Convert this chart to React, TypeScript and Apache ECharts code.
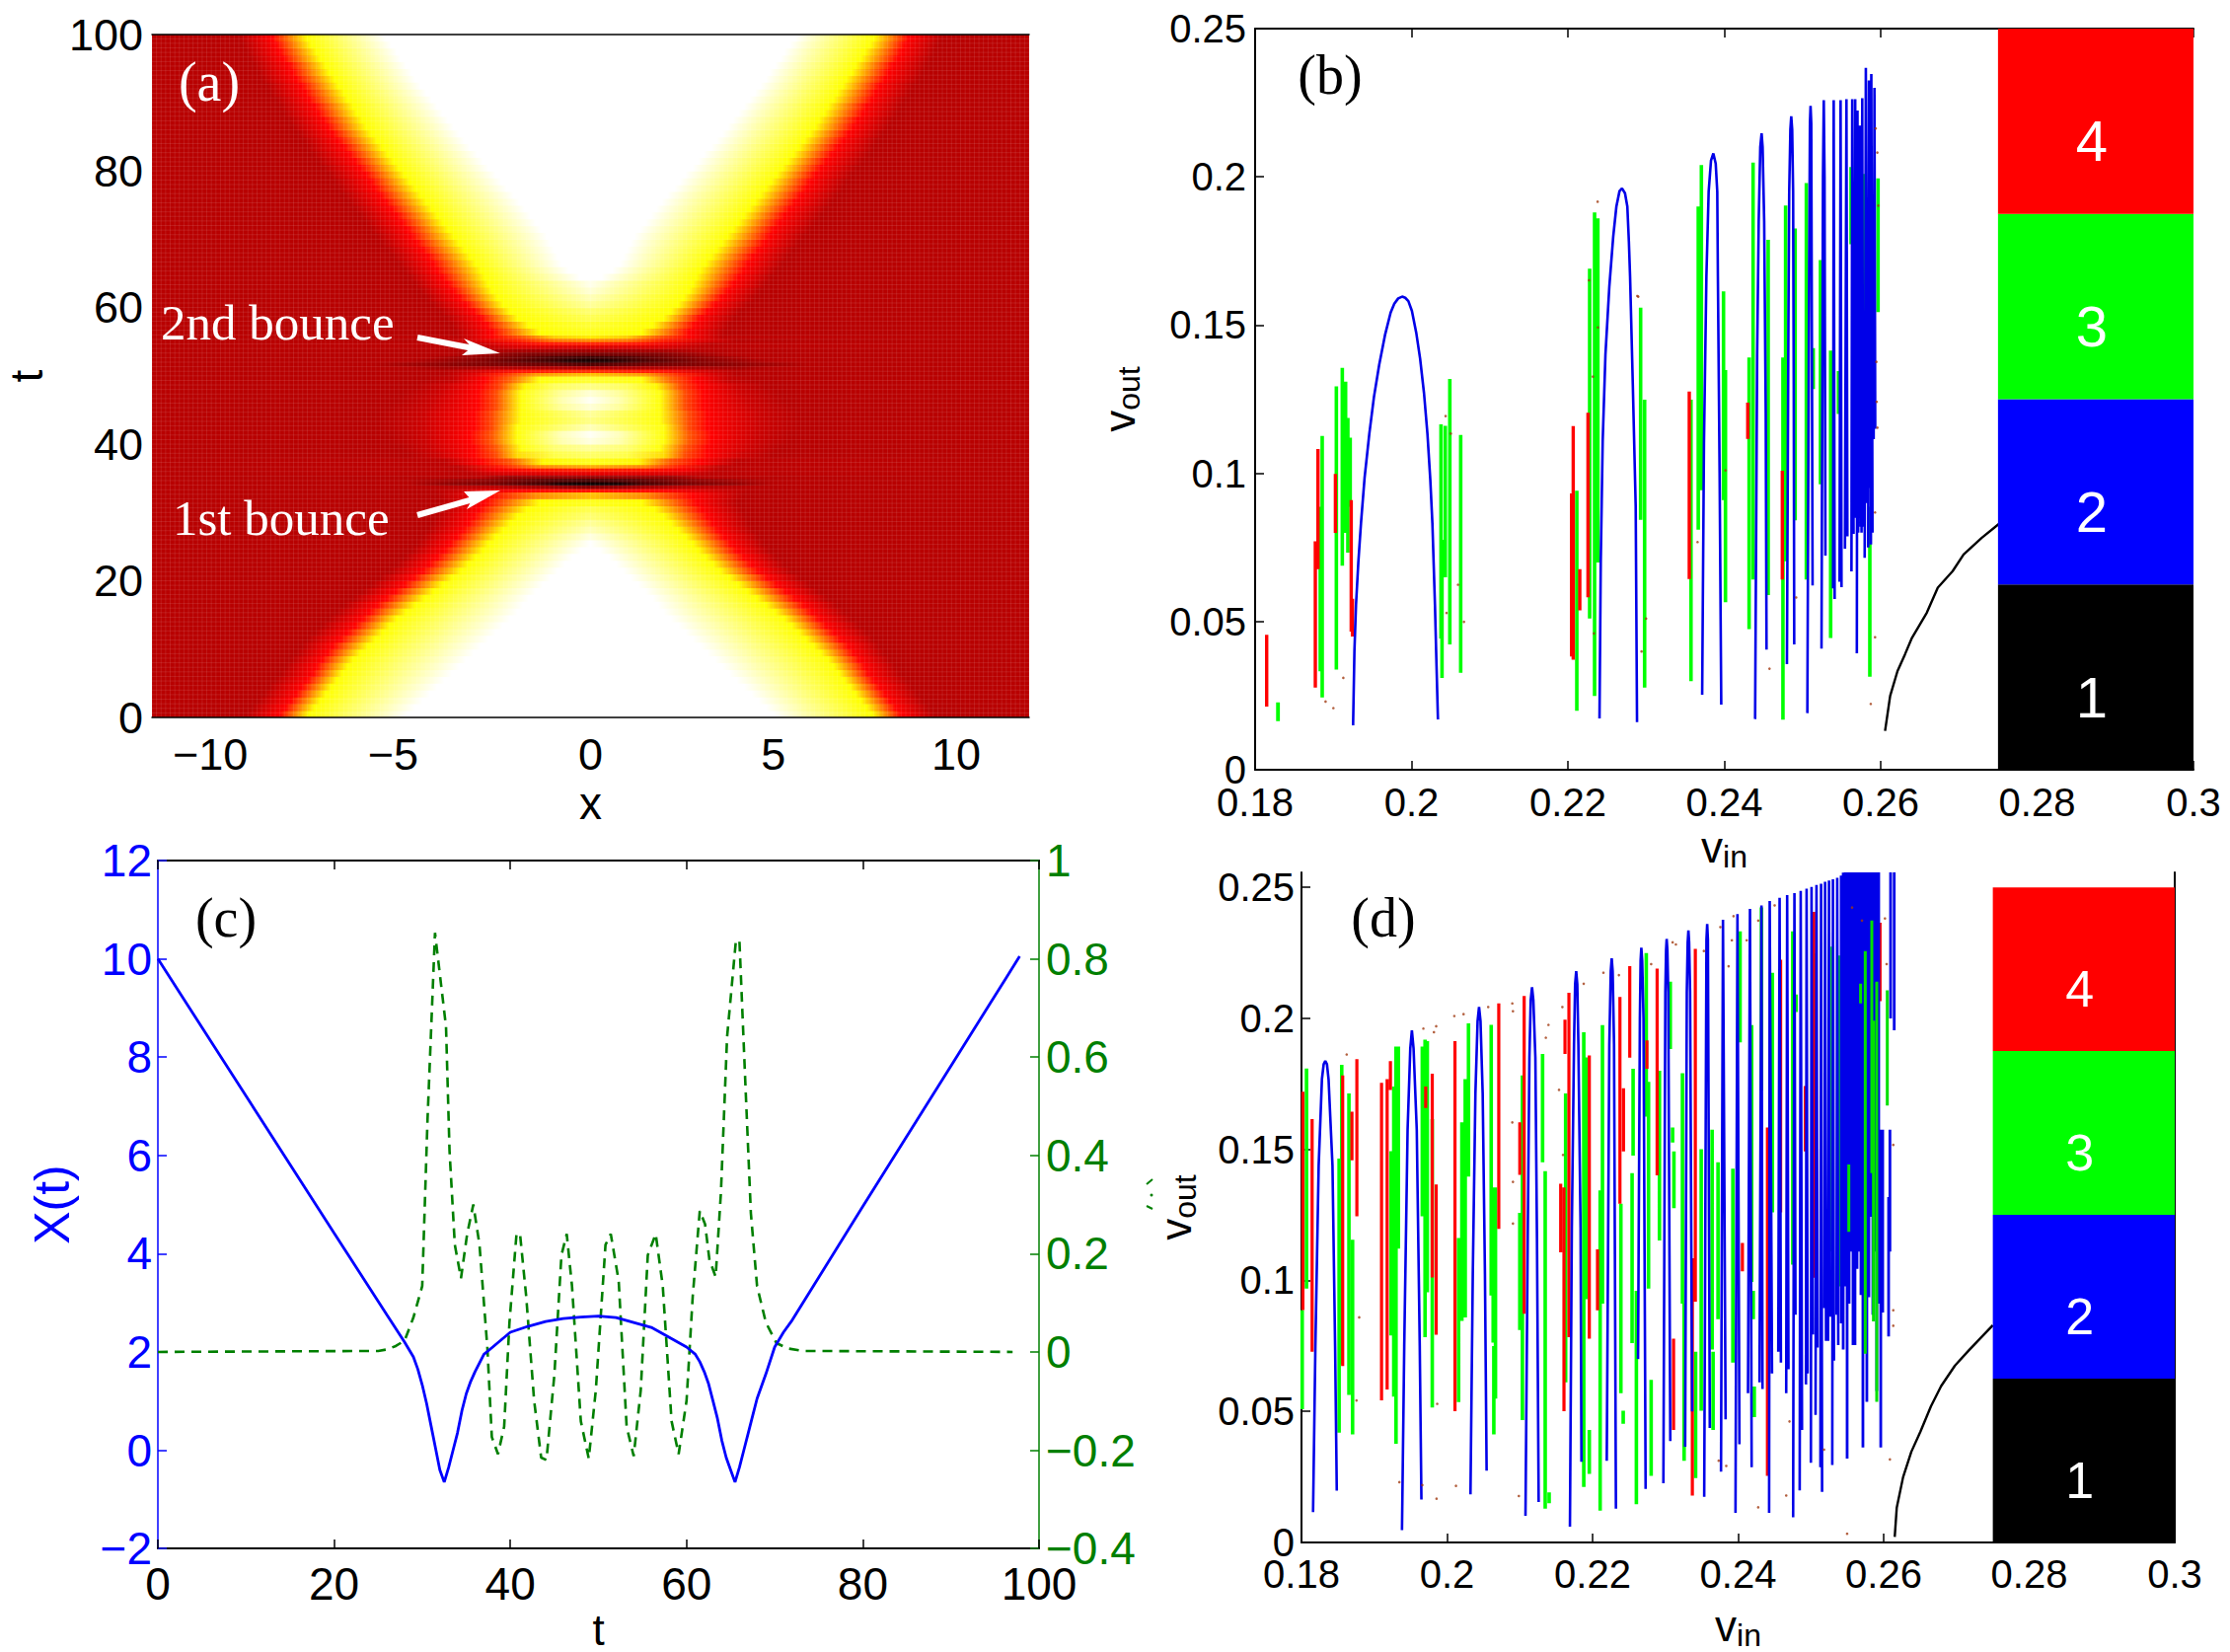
import React, { useEffect, useRef } from "react";
import * as echarts from "echarts";

const SANS = "Liberation Sans";
const SERIF = "Liberation Serif";

// ---------- panel (a): contours read per time row, mirrored in x
const backgroundLevel = 0.27;
const meshStepX = 0.125;
const meshStepT = 0.667;
// [t0, centre level, white edge, yellow edge, red edge, dark edge]
const lowerFlankRows = [
[0,1,5,7.7,8.5,9.4],[1,1,4.8,7.55,8.35,9.25],[2,1,4.6,7.4,8.2,9.1],[3,1,4.4,7.25,8.05,8.95],[4,1,4.2,7.1,7.9,8.8],
[5,1,4,6.95,7.75,8.65],[6,1,3.8,6.8,7.6,8.5],[7,1,3.6,6.65,7.5,8.35],[8,1,3.4,6.5,7.35,8.2],[9,1,3.2,6.3,7.2,8.05],
[10,1,3,6.1,7.05,7.9],[11,1,2.8,5.9,6.85,7.75],[12,1,2.6,5.7,6.65,7.55],[13,1,2.4,5.5,6.45,7.35],[14,1,2.2,5.3,6.25,7.15],
[15,1,2,5.05,6.05,6.95],[16,1,1.85,4.8,5.85,6.75],[17,1,1.7,4.55,5.6,6.5],[18,1,1.5,4.3,5.35,6.25],[19,1,1.3,4.05,5.1,6],
[20,1,1.1,3.8,4.85,5.75],[21,1,0.9,3.55,4.6,5.5],[22,1,0.7,3.35,4.4,5.3],[23,1,0.5,3.15,4.2,5.1],[24,1,0.25,2.95,4,4.9],
[25,1,0,2.8,3.85,4.75],[26,0.97,0,2.6,3.65,4.6],[27,0.93,0,2.4,3.5,4.45],[28,0.9,0,2.2,3.35,4.35],[29,0.86,0,2,3.2,4.25],
[30,0.83,0,1.75,3.05,4.15],[31,0.78,0,1.4,2.9,4.05],
];
const upperFlankRows = [
[56,0.78,0,1.4,2.7,3.7],[57,0.8,0,1.7,2.85,3.8],[58,0.83,0,2,3,3.95],[59,0.86,0,2.2,3.2,4.1],[60,0.9,0,2.4,3.4,4.3],
[61,0.93,0,2.55,3.6,4.5],[62,0.96,0,2.7,3.75,4.65],[63,0.98,0,2.8,3.9,4.8],[64,1,0.3,2.9,4.05,4.95],[65,1,0.6,3,4.2,5.1],
[66,1,0.8,3.15,4.3,5.25],[67,1,0.9,3.3,4.45,5.4],[68,1,1,3.45,4.6,5.55],[69,1,1.1,3.6,4.75,5.7],[70,1,1.2,3.75,4.9,5.85],
[71,1,1.35,3.9,5,6],[72,1,1.5,4.05,5.15,6.15],[73,1,1.65,4.2,5.3,6.3],[74,1,1.8,4.35,5.45,6.45],[75,1,1.95,4.5,5.6,6.6],
[76,1,2.1,4.65,5.75,6.75],[77,1,2.3,4.8,5.9,6.9],[78,1,2.45,4.95,6,7],[79,1,2.6,5.1,6.15,7.15],[80,1,2.8,5.25,6.3,7.3],
[81,1,2.95,5.4,6.45,7.45],[82,1,3.1,5.55,6.6,7.6],[83,1,3.3,5.7,6.75,7.75],[84,1,3.45,5.85,6.9,7.85],[85,1,3.6,6,7.05,8],
[86,1,3.75,6.15,7.2,8.15],[87,1,3.9,6.25,7.3,8.25],[88,1,4.05,6.4,7.45,8.4],[89,1,4.2,6.5,7.55,8.5],[90,1,4.35,6.65,7.7,8.6],
[91,1,4.5,6.75,7.8,8.75],[92,1,4.65,6.9,7.9,8.85],[93,1,4.8,7,8.05,9],[94,1,4.9,7.15,8.15,9.1],[95,1,5.05,7.25,8.25,9.2],
[96,1,5.2,7.4,8.4,9.3],[97,1,5.3,7.5,8.5,9.4],[98,1,5.45,7.65,8.6,9.5],[99,1,5.6,7.75,8.7,9.6],
];
// [t0, t1, x, level, x, level, ...] around the two bounces and the bound state between them
const bounceRows = [
[32,33,0,0.66,1.5,0.58,2.8,0.375,4.2,0.27],
[33,33.5,0,0.4,2,0.38,3,0.33,4.3,0.27],
[33.5,34,0,0.2,1.5,0.25,2.6,0.28,4,0.27],
[34,34.5,0,0.02,0.8,0.04,1.3,0.1,2.6,0.18,4,0.22,5,0.27],
[34.5,35,0,0.1,1.3,0.13,2.6,0.2,4,0.24,5,0.27],
[35,35.5,0,0.22,2.2,0.22,3,0.27],
[35.5,36,0,0.34,2.4,0.32,3.3,0.28],
[36,36.5,0,0.42,1.6,0.4,2.6,0.36,3.5,0.28],
[36.5,37,0,0.62,1.5,0.56,2.5,0.4,3.6,0.28],
[37,38,0,0.78,1.3,0.74,2.2,0.5,3,0.375,4,0.28],
[38,39,0,0.85,1,0.82,2,0.7,2.6,0.48,3.2,0.375,4.2,0.3,5,0.27],
[39,40,0,0.9,1,0.86,1.9,0.76,2.6,0.5,3.2,0.375,4.4,0.3,5.2,0.27],
[40,41,0,0.97,0.8,0.92,2,0.76,2.7,0.5,3.3,0.375,4.5,0.3,5.5,0.27],
[41,42,0,0.99,0.8,0.93,2,0.76,2.7,0.5,3.3,0.375,4.5,0.3,5.5,0.27],
[42,43,0,0.93,2,0.76,2.7,0.48,3.2,0.375,4.6,0.3,5.8,0.27],
[43,44,0,0.88,1.9,0.76,2.7,0.48,3.2,0.375,4.6,0.3,5.8,0.27],
[44,45,0,0.9,1.9,0.76,2.7,0.48,3.2,0.375,4.6,0.3,5.8,0.27],
[45,46,0,0.96,0.8,0.9,1.9,0.76,2.6,0.48,3.1,0.375,4.4,0.3,5.5,0.27],
[46,47,0,0.99,0.8,0.92,1.9,0.76,2.6,0.48,3.1,0.375,4.3,0.3,5.3,0.27],
[47,48,0,0.96,0.8,0.9,1.9,0.76,2.6,0.48,3.1,0.375,4.2,0.3,5.2,0.27],
[48,49,0,0.88,1,0.84,1.8,0.74,2.5,0.47,3,0.375,4,0.3,4.8,0.27],
[49,50,0,0.8,1.4,0.76,2.2,0.52,2.9,0.375,3.8,0.29,4.5,0.27],
[50,50.5,0,0.66,1.5,0.6,2.5,0.42,3.2,0.33,4,0.27],
[50.5,51,0,0.44,2,0.4,3,0.32,4,0.27],
[51,51.5,0,0.26,2.5,0.26,4,0.24,5,0.27],
[51.5,52,0,0.12,0.8,0.15,2,0.18,3.5,0.2,5,0.24,6,0.27],
[52,52.5,0,0.04,0.5,0.05,1,0.09,1.9,0.14,3,0.2,4.2,0.24,5,0.27],
[52.5,53,0,0.08,1,0.11,2,0.17,3.2,0.22,4.5,0.27],
[53,53.5,0,0.17,1.8,0.19,3,0.24,3.8,0.27],
[53.5,54,0,0.24,2,0.25,3,0.27],
[54,54.5,0,0.32,2,0.32,3,0.28],
[54.5,55,0,0.42,1.3,0.4,2.3,0.34,3.3,0.28],
[55,55.5,0,0.58,1,0.55,2,0.42,3,0.33,4,0.27],
[55.5,56,0,0.72,1,0.68,1.9,0.5,2.7,0.375,3.6,0.28],
];

// ---------- panel (b)
const barBlocks = [
  { label: "1", color: "#000000", lo: 0, hi: 0.0625 },
  { label: "2", color: "#0000ff", lo: 0.0625, hi: 0.125 },
  { label: "3", color: "#00ff00", lo: 0.125, hi: 0.1875 },
  { label: "4", color: "#ff0000", lo: 0.1875, hi: 0.25 },
];
const barRange = [0.275, 0.3];
const bBlack = [[0.26056,0.0131],[0.26121,0.0249],[0.26215,0.0333],[0.2631,0.0389],[0.264,0.0445],[0.2659,0.053],[0.2673,0.0614],[0.2692,0.067],[0.2706,0.0726],[0.2729,0.0782],[0.2751,0.0829]];
const bBlueArcs = [
  [0.19253,0.015,0.1927,0.04,0.1929,0.0555,0.1932,0.07,0.19354,0.0832,0.194,0.0985,0.1946,0.1132,0.1952,0.1258,0.19586,0.1365,0.1966,0.1465,0.19733,0.1542,0.1978,0.1572,0.1983,0.159,0.1988,0.1596,0.1992,0.1592,0.1996,0.1581,0.20005,0.1548,0.2006,0.1475,0.2011,0.1387,0.2016,0.127,0.20204,0.1132,0.2024,0.098,0.20267,0.0832,0.203,0.0555,0.2032,0.035,0.20338,0.017],
  [0.22404,0.0173,0.2242,0.07,0.22445,0.111,0.2248,0.14,0.2253,0.1631,0.2258,0.18,0.2262,0.19,0.2266,0.1952,0.22692,0.1961,0.2273,0.1945,0.2276,0.19,0.2278,0.178,0.22795,0.1664,0.2283,0.13,0.22867,0.0888,0.22884,0.0161],
  [0.23717,0.0253,0.2374,0.11,0.23771,0.1664,0.238,0.195,0.2383,0.2055,0.2386,0.2079,0.2389,0.2045,0.2391,0.195,0.23918,0.1664,0.2394,0.1,0.23961,0.022],
  [0.24394,0.0171,0.2442,0.14,0.2444,0.185,0.2446,0.21,0.24477,0.2147,0.2449,0.21,0.2451,0.185,0.2453,0.12,0.2454,0.0405],
  [0.24801,0.0356,0.2482,0.15,0.2483,0.195,0.24845,0.216,0.24856,0.2204,0.24868,0.216,0.2488,0.195,0.24888,0.13,0.24894,0.0423],
  [0.25062,0.0191,0.25085,0.17,0.25095,0.218,0.25103,0.2239,0.25112,0.218,0.25129,0.0622],
  [0.25243,0.0409,0.25262,0.2,0.25272,0.2259,0.25282,0.2,0.25293,0.0722],
  [0.25391,0.0612,0.25399,0.2259,0.25411,0.0576],
  [0.25474,0.0634,0.25487,0.2259,0.25499,0.0616],
  [0.25543,0.0746,0.25562,0.2262,0.25574,0.0787],
  [0.25626,0.0669,0.25636,0.2262,0.25653,0.0796],
  [0.25665,0.085,0.25674,0.2262,0.25685,0.09],
  [0.25695,0.0393,0.25703,0.2224,0.25712,0.08],
  [0.25725,0.085,0.25735,0.2173,0.25745,0.082],
  [0.25755,0.08,0.25764,0.2265,0.25775,0.082],
  [0.25795,0.0715,0.2581,0.2368,0.25825,0.09],
  [0.2584,0.075,0.2585,0.2325,0.2586,0.095],
  [0.25875,0.076,0.2588,0.2347,0.25895,0.08],
  [0.2591,0.1115,0.2592,0.23,0.2593,0.115],
];
const bGreen = [
  [0.18291,0.0227,0.0164],[0.18294,0.0227,0.0164],[0.18833,0.0887,0.0332],[0.18858,0.1126,0.0244],[0.19039,0.1293,0.0338],[0.19115,0.1356,0.0688],[0.19157,0.1309,0.0799],[0.19186,0.1187,0.0732],[0.19216,0.112,0.0887],
  [0.20377,0.1165,0.0443],[0.2039,0.0776,0.031],[0.20432,0.116,0.0649],[0.2049,0.1318,0.0423],[0.20629,0.1129,0.0327],
  [0.22114,0.0941,0.0199],[0.22278,0.169,0.051],[0.22341,0.188,0.0249],[0.22383,0.186,0.0699],[0.2293,0.1559,0.0843],[0.22981,0.1248,0.0277],
  [0.23574,0.1248,0.0299],[0.23667,0.19,0.081],[0.23707,0.204,0.0943],[0.2399,0.1614,0.091],[0.24015,0.1348,0.0565],
  [0.24317,0.1391,0.0474],[0.24368,0.2048,0.0642],[0.24561,0.1788,0.0589],[0.2475,0.1391,0.0169],[0.24784,0.1903,0.0703],[0.24906,0.1826,0.0841],[0.25049,0.1979,0.0642],[0.25137,0.1422,0.1284],[0.2523,0.1719,0.0963],[0.2536,0.1414,0.0444],[0.25461,0.1345,0.12],[0.25621,0.2033,0.1773],[0.2565,0.1819,0.1452],[0.25777,0.201,0.1253],[0.25861,0.0887,0.0314],[0.25966,0.1995,0.1544],
];
const bRed = [
  [0.18148,0.0455,0.0213],[0.1877,0.0771,0.0277],[0.18804,0.1082,0.0677],[0.19027,0.0998,0.0799],[0.19229,0.091,0.0466],[0.19245,0.0577,0.0449],
  [0.22068,0.1159,0.0371],[0.22047,0.0932,0.0382],[0.22152,0.0677,0.0538],[0.22257,0.1204,0.0582],[0.23552,0.1276,0.0643],[0.243,0.1238,0.1116],[0.24742,0.1009,0.0642],
];
const bDots = [[0.18901,0.023],[0.19001,0.0208],[0.19128,0.031],[0.20436,0.1193],[0.20503,0.1134],[0.20448,0.0529],[0.20671,0.0499],[0.20595,0.0624],[0.23,0.051],[0.22942,0.0399],[0.22333,0.046],[0.2232,0.1326],[0.22383,0.1492],[0.2227,0.1651],[0.23658,0.0768],[0.24015,0.101],[0.22888,0.1598],[0.2238,0.1916],[0.229,0.1596],[0.25936,0.2163],[0.25957,0.2082],[0.2597,0.1903],[0.25945,0.1376],[0.25949,0.1241],[0.25958,0.1154],[0.25928,0.0868],[0.25928,0.0447],[0.25873,0.0222],[0.24578,0.0341],[0.24919,0.0581]];

// ---------- panel (c)
const cTime = [0,10,20,26,28,29,29.5,30,30.5,31,31.5,32,32.5,33,33.5,34,34.5,35,35.5,36,37,38,40,42,44,46,48,50,52,54,56,58,60,61,61.5,62,62.5,63,63.5,64,64.5,65,65.5,66,66.5,67,67.5,68,68.5,69,70,71,72,80,90,97.8];
const cPosition = [10,7.21,4.42,2.75,2.2,1.9,1.65,1.33,0.95,0.5,0.05,-0.4,-0.65,-0.35,0,0.35,0.8,1.15,1.4,1.6,1.95,2.1,2.4,2.52,2.62,2.68,2.71,2.73,2.7,2.6,2.5,2.3,2.1,1.95,1.8,1.6,1.35,1.0,0.65,0.2,-0.15,-0.4,-0.65,-0.35,0,0.35,0.7,1.05,1.3,1.55,2.1,2.4,2.65,4.96,7.82,10.05];
const cFieldTime = [0,25,26,27,28,29,30,30.6,31.45,32.7,33.1,33.7,34.4,35.1,35.8,36.5,37.4,37.9,38.6,39.3,39.9,40.7,41.1,41.8,42.7,43.5,44.1,45,45.8,46.4,47,48,48.9,49.7,50.8,51.4,52.3,53.2,54,54.8,55.6,56.5,57.3,58.3,59.1,60,60.7,61.5,62.1,62.6,63.3,63.9,64.6,65.6,66,66.7,67.3,68,69,70.2,71.5,73.2,97];
const cFieldValue = [0,0.002,0.005,0.012,0.023,0.07,0.134,0.472,0.853,0.662,0.409,0.218,0.15,0.24,0.3,0.218,0.007,-0.173,-0.208,-0.152,0.06,0.24,0.24,0.113,-0.099,-0.215,-0.22,-0.046,0.197,0.24,0.134,-0.141,-0.217,-0.078,0.218,0.24,0.144,-0.152,-0.212,-0.078,0.197,0.24,0.134,-0.141,-0.208,-0.099,0.113,0.287,0.26,0.187,0.153,0.324,0.641,0.837,0.837,0.535,0.282,0.134,0.06,0.018,0.007,0.002,0];

// ---------- panel (d)
const dYMax = 0.2557;
const dYTicks = [0, 0.05, 0.1, 0.15, 0.2, 0.25];
const dBlack = [[0.26152,0.0021],[0.2618,0.0133],[0.26267,0.0249],[0.2638,0.0346],[0.26505,0.0423],[0.2665,0.052],[0.2679,0.0597],[0.2698,0.0675],[0.2717,0.0733],[0.275,0.0829]];
const dBlueArcs = [
  [0.18159,0.0116,0.18191,0.0749,0.18236,0.1437,0.18281,0.1768,0.18305,0.1825,0.18327,0.1837,0.1835,0.1825,0.18372,0.1768,0.18426,0.1437,0.18462,0.0749,0.18485,0.0198],
  [0.19381,0.0047,0.19412,0.0749,0.19458,0.1575,0.19495,0.1885,0.19517,0.1954,0.1954,0.1885,0.19584,0.1575,0.19625,0.0749,0.19648,0.0164],
  [0.20322,0.0184,0.20354,0.1024,0.2039,0.1713,0.2042,0.199,0.2044,0.2043,0.2046,0.199,0.2049,0.1713,0.20521,0.1024,0.20544,0.0274],
  [0.21078,0.0102,0.21109,0.1162,0.21132,0.1851,0.2115,0.207,0.21168,0.2119,0.21186,0.207,0.21214,0.1851,0.21236,0.1162,0.21259,0.0154],
  [0.21689,0.006,0.21715,0.12,0.21745,0.19,0.2176,0.213,0.21775,0.218,0.2179,0.213,0.21805,0.19,0.21835,0.12,0.21847,0.0308],
  [0.22195,0.0312,0.2223,0.19,0.2225,0.218,0.22263,0.2229,0.22276,0.218,0.22295,0.19,0.22321,0.0129],
  [0.22625,0.07,0.2265,0.2,0.2266,0.222,0.2267,0.227,0.22682,0.222,0.227,0.2,0.22729,0.0204],
  [0.22973,0.0226,0.23,0.21,0.2301,0.226,0.23018,0.2303,0.23028,0.226,0.2304,0.21,0.23068,0.0387],
  [0.23272,0.0365,0.23295,0.21,0.23307,0.229,0.23317,0.2335,0.23327,0.229,0.2334,0.21,0.23368,0.05],
  [0.23534,0.0174,0.23565,0.23,0.23575,0.236,0.23585,0.23,0.23611,0.0437],
  [0.23765,0.027,0.23792,0.2376,0.23828,0.047],
  [0.23964,0.0113,0.23991,0.2398,0.24018,0.0375],
  [0.24136,0.057,0.24163,0.2418,0.24186,0.0287],
  [0.24294,0.0611,0.24321,0.2431,0.24335,0.0586],
  [0.24426,0.0113,0.24434,0.2448,0.24466,0.0645],
  [0.24552,0.0728,0.2457,0.246,0.24588,0.0686],
  [0.24661,0.057,0.24674,0.247,0.24692,0.0661],
  [0.24756,0.0096,0.24774,0.2478,0.24788,0.0869],
  [0.24846,0.0199,0.2486,0.2486,0.24878,0.0429],
  [0.24932,0.0603,0.24941,0.2495,0.24955,0.0645],
  [0.25,0.0304,0.25009,0.2501,0.25027,0.0794],
  [0.25064,0.0487,0.25077,0.2509,0.25091,0.0744],
  [0.25131,0.0287,0.2514,0.2514,0.25154,0.0193],
  [0.25186,0.0894,0.25195,0.2521,0.25208,0.0769],
  [0.25236,0.0769,0.25249,0.2526,0.25263,0.0861],
  [0.25294,0.0296,0.25303,0.2531,0.25317,0.0694],
  [0.25353,0.0869,0.25362,0.2536,0.25376,0.0753],
];
const dBlueSticks = [
  [0.25416,0.2545,0.0836],[0.25444,0.2556,0.0736],[0.25471,0.2557,0.0977],[0.25498,0.2557,0.032],[0.25525,0.2557,0.0911],[0.25552,0.2557,0.111],[0.25579,0.2557,0.0753],[0.25606,0.2557,0.0753],[0.25634,0.2557,0.1044],[0.25661,0.2557,0.111],[0.25688,0.2557,0.0944],[0.25715,0.2557,0.0362],[0.25742,0.2557,0.0994],[0.25769,0.2557,0.0537],[0.25797,0.2557,0.0936],[0.25824,0.2557,0.1243],[0.25851,0.2557,0.0869],[0.25878,0.2557,0.111],[0.25905,0.2557,0.0578],[0.25932,0.2557,0.0911],[0.2596,0.1575,0.0362],[0.25987,0.1575,0.0877],
  [0.26145,0.2557,0.1954],[0.26095,0.2557,0.2],[0.26086,0.1575,0.111],[0.26068,0.1318,0.0786],
];
const dGreen = [
  [0.1801,0.0887,0.0508],[0.18069,0.1809,0.0969],[0.18553,0.1823,0.068],[0.18517,0.1465,0.0419],[0.18652,0.1713,0.0563],[0.18702,0.1155,0.0412],
  [0.19232,0.1493,0.079],[0.19268,0.174,0.0556],[0.19299,0.1892,0.0377],[0.19331,0.1892,0.1121],[0.19698,0.1919,0.0783],[0.19729,0.1913,0.0955],[0.19797,0.1616,0.0515],[0.1966,0.1892,0.1245],
  [0.20159,0.1162,0.0536],[0.20204,0.1603,0.0845],[0.2025,0.1768,0.0859],[0.20295,0.1981,0.1396],[0.20607,0.1975,0.0942],[0.20634,0.1355,0.0763],[0.20666,0.1355,0.0549],[0.20643,0.0749,0.0412],
  [0.21,0.1258,0.0811],[0.21036,0.1782,0.0467],[0.21313,0.1864,0.1451],[0.21349,0.1417,0.0129],[0.21403,0.0191,0.015],
  [0.2163,0.1713,0.0611],[0.21879,0.1947,0.0212],[0.2191,0.1851,0.0928],
  [0.21955,0.0429,0.0262],[0.22104,0.1343,0.0121],[0.22136,0.1974,0.0911],[0.22389,0.1293,0.057],[0.22421,0.0503,0.0453],[0.22557,0.1808,0.1476],[0.22543,0.1409,0.0761],[0.22602,0.096,0.0146],[0.22738,0.2249,0.1625],[0.22769,0.1758,0.0969],[0.22805,0.062,0.0254],[0.22919,0.18,0.1152],[0.23068,0.214,0.1883],[0.231,0.1584,0.1526],[0.23118,0.1492,0.1276],[0.23235,0.1791,0.0911],[0.23258,0.0911,0.0312],[0.23416,0.0728,0.0246],[0.23493,0.1501,0.0503],[0.23643,0.1575,0.0736],[0.23656,0.0728,0.0429],[0.23724,0.1451,0.0852],[0.23928,0.1426,0.0686],[0.24027,0.2332,0.1908],[0.24186,0.1974,0.0994],[0.24208,0.096,0.0852],[0.24222,0.0595,0.0478],[0.24321,0.2423,0.1725],[0.24471,0.2174,0.126],[0.24751,0.2332,0.106],[0.24797,0.2091,0.2024],[0.25059,0.2248,0.1077],[0.25294,0.2274,0.111],[0.25385,0.224,0.0977],
];
const dGreenOver = [[0.25521,0.1442,0.1185],[0.25683,0.2132,0.2057],[0.25747,0.2257,0.072],[0.25837,0.2373,0.1409],[0.2586,0.1991,0.0844],[0.25905,0.214,0.0537],[0.2605,0.2107,0.1667]];
const dRed = [
  [0.18019,0.172,0.0887],[0.18146,0.1616,0.0728],[0.18566,0.1782,0.0673],[0.18693,0.1644,0.1458],[0.18761,0.1844,0.1245],
  [0.191,0.1754,0.0542],[0.19177,0.1768,0.0584],[0.19222,0.1837,0.1727],[0.19707,0.174,0.1658],[0.19797,0.1789,0.1011],[0.19851,0.1366,0.0793],
  [0.20109,0.1913,0.0501],[0.20711,0.2057,0.1197],[0.21,0.1603,0.1403],[0.2106,0.2085,0.0873],[0.21562,0.1369,0.1107],[0.21607,0.1355,0.0501],[0.21621,0.1995,0.1864],[0.21675,0.2098,0.0783],
  [0.21955,0.1858,0.0778],[0.22068,0.1118,0.0886],[0.22376,0.2082,0.1293],[0.22425,0.1733,0.1492],[0.22511,0.2199,0.185],[0.22747,0.1916,0.1808],[0.22887,0.219,0.1401],[0.23113,0.0778,0.0429],[0.23371,0.1085,0.0179],[0.23412,0.2265,0.0919],[0.24059,0.1143,0.1035],[0.24403,0.1584,0.0254],[0.24584,0.2224,0.126],[0.24923,0.1742,0.1492],[0.25041,0.2406,0.101],[0.25661,0.2057,0.1683],[0.2595,0.2365,0.2066],
];
const dDots = [[0.18621,0.1862],[0.18793,0.0859],[0.18756,0.0542],[0.19675,0.1961],[0.1982,0.1947],[0.19851,0.197],[0.19856,0.0167],[0.19661,0.0219],[0.19345,0.023],[0.201,0.2009],[0.20227,0.2016],[0.19865,0.0529],[0.20123,0.0216],[0.20566,0.2043],[0.20897,0.2057],[0.20906,0.2027],[0.20897,0.1603],[0.20906,0.1376],[0.20906,0.1217],[0.20987,0.0177],[0.21394,0.1975],[0.21358,0.1926],[0.21585,0.2043],[0.21539,0.1727],[0.21594,0.1479],[0.21878,0.2132],[0.22149,0.2174],[0.22362,0.2165],[0.22805,0.2207],[0.231,0.229],[0.23145,0.2282],[0.2353,0.2257],[0.23756,0.2348],[0.23937,0.239],[0.23914,0.2298],[0.23869,0.2199],[0.24118,0.2298],[0.24277,0.2373],[0.24502,0.2431],[0.25566,0.2423],[0.25702,0.2373],[0.26018,0.2381],[0.26041,0.2207],[0.26132,0.1517],[0.26132,0.0886],[0.26132,0.0827],[0.24661,0.0179],[0.24276,0.0134],[0.25498,0.0033],[0.26086,0.0317],[0.25181,0.0354],[0.24706,0.0462],[0.23733,0.0312],[0.23837,0.0292]];

// ---------- helpers
const GAP = ["-", "-"];
const sticks = (list: number[][]) => list.flatMap(([x, a, b]) => [[x, a], [x, b], GAP]);
const arcs = (list: number[][]) =>
  list.flatMap((a) => {
    const out: any[] = [];
    for (let i = 0; i < a.length; i += 2) out.push([a[i], a[i + 1]]);
    out.push(GAP);
    return out;
  });
const clamp = (v: number) => Math.max(0, Math.min(1, v));
const hot = (v: number) =>
  `rgb(${Math.round(255 * clamp(v / 0.375))},${Math.round(255 * clamp((v - 0.375) / 0.375))},${Math.round(255 * clamp((v - 0.75) / 0.25))})`;

const flankStops = (r: number[]) => {
  const [, c, w, e, red, dark] = r;
  return [0, c, ...(w > 0 ? [w, 1] : []), e, 0.75, red, 0.375, dark, backgroundLevel];
};
const fieldRowList: { t0: number; t1: number; stops: number[] }[] = [
  ...lowerFlankRows.map((r) => ({ t0: r[0], t1: r[0] + 1, stops: flankStops(r) })),
  ...bounceRows.map((r) => ({ t0: r[0], t1: r[1], stops: r.slice(2) })),
  ...upperFlankRows.map((r) => ({ t0: r[0], t1: r[0] + 1, stops: flankStops(r) })),
];
const rowGradient = (flat: number[]) => {
  const half: { x: number; l: number }[] = [];
  for (let i = 0; i < flat.length; i += 2) half.push({ x: flat[i], l: flat[i + 1] });
  half.push({ x: 12, l: backgroundLevel });
  const stops: { offset: number; color: string }[] = [];
  for (let i = half.length - 1; i > 0; i--) stops.push({ offset: (12 - half[i].x) / 24, color: hot(half[i].l) });
  for (const p of half) stops.push({ offset: (12 + p.x) / 24, color: hot(p.l) });
  return new echarts.graphic.LinearGradient(0, 0, 1, 0, stops);
};
const fieldFills = fieldRowList.map((r) => rowGradient(r.stops));

// the colour plot's mesh lines
const meshLines: number[][] = [];
for (let x = -12; x <= 12; x += meshStepX) meshLines.push([x, 0, x, 100]);
for (let t = 0; t <= 100; t += meshStepT) meshLines.push([-12, t, 12, t]);

const tickFont = (size: number, color = "#000") => ({ fontFamily: SANS, fontSize: size, color });
const line = (color = "#000", width = 2) => ({ show: true, onZero: false, lineStyle: { color, width } });
const ticks = (color = "#000", length = 9) => ({ show: true, inside: true, length, lineStyle: { color, width: 1.5 } });
const subName = (main: string, sub: string) => `{m|${main}}{s|${sub}}`;
const subRich = { rich: {
  m: { fontFamily: SANS, fontSize: 44, color: "#000", lineHeight: 40 },
  s: { fontFamily: SANS, fontSize: 32, color: "#000", padding: [20, 0, 0, 0], verticalAlign: "bottom" },
} };
const vTick = (v: number) => (v === 0 ? "0" : String(+v.toFixed(2)));

const blockSeries = (xAxisIndex: number, yAxisIndex: number, fontSize: number) => ({
  type: "custom", xAxisIndex, yAxisIndex, z: 3, clip: true,
  data: barBlocks.map((b) => [barRange[0], barRange[1], b.lo, b.hi]),
  encode: { x: [0, 1], y: [2, 3] },
  renderItem: (params: any, api: any) => {
    const p0 = api.coord([api.value(0), api.value(3)]);
    const p1 = api.coord([api.value(1), api.value(2)]);
    const b = barBlocks[params.dataIndex];
    return {
      type: "group",
      children: [
        { type: "rect", shape: { x: p0[0], y: p0[1], width: p1[0] - p0[0], height: p1[1] - p0[1] }, style: { fill: b.color } },
        { type: "text", style: { text: b.label, x: (p0[0] + p1[0]) / 2 - 4, y: (p0[1] + p1[1]) / 2 + 20, fill: "#fff", fontFamily: SANS, fontSize, align: "center", verticalAlign: "middle" } },
      ],
    };
  },
});
const lineSeries = (x: number, y: number, color: string, data: any[], width = 2.6, z = 2, extra: any = {}) => ({
  type: "line", xAxisIndex: x, yAxisIndex: y, data, showSymbol: false, symbol: "none", z, animation: false,
  lineStyle: { color, width, ...(extra.lineStyle || {}) }, connectNulls: false,
});
const dotSeries = (x: number, y: number, data: number[][]) => ({
  type: "scatter", xAxisIndex: x, yAxisIndex: y, data, symbolSize: 2.6, z: 2, itemStyle: { color: "#a03a10" },
});

const option: any = {
  animation: false,
  backgroundColor: "#fff",
  grid: [
    { left: 154, top: 35, width: 889, height: 692 },
    { left: 1272, top: 29, width: 951, height: 751 },
    { left: 160, top: 872, width: 893, height: 704 },
    { left: 1319, top: 884, width: 885, height: 686 },
  ],
  xAxis: [
    { type: "value", gridIndex: 0, min: -12, max: 12, position: "bottom", z: 5,
      axisLine: line("#000", 1.5), axisTick: { show: false }, splitLine: { show: false },
      axisLabel: { ...tickFont(45), margin: 15, customValues: [-10, -5, 0, 5, 10],
        rich: { n: { fontFamily: SANS, fontSize: 45, color: "#000", padding: [0, 30, 0, 0] } },
        formatter: (v: number) => (v < 0 ? `{n|\u2212${-v}}` : String(v)) },
      name: "x", nameLocation: "middle", nameGap: 64, nameTextStyle: tickFont(46) },
    { type: "value", gridIndex: 0, min: -12, max: 12, position: "top", z: 5, axisLine: line("#000", 1.5), axisTick: { show: false }, axisLabel: { show: false }, splitLine: { show: false } },
    { type: "value", gridIndex: 1, min: 0.18, max: 0.3, interval: 0.02, position: "bottom",
      axisLine: line(), axisTick: ticks(), splitLine: { show: false },
      axisLabel: { ...tickFont(40), margin: 13, formatter: vTick },
      name: subName("v", "in"), nameLocation: "middle", nameGap: 52, nameTextStyle: subRich },
    { type: "value", gridIndex: 1, min: 0.18, max: 0.3, interval: 0.02, position: "top", axisLine: line(), axisTick: ticks(), axisLabel: { show: false }, splitLine: { show: false } },
    { type: "value", gridIndex: 2, min: 0, max: 100, interval: 20, position: "bottom",
      axisLine: line(), axisTick: ticks(), splitLine: { show: false },
      axisLabel: { ...tickFont(46), margin: 13 },
      name: "t", nameLocation: "middle", nameGap: 60, nameTextStyle: { ...tickFont(44), lineHeight: 30 } },
    { type: "value", gridIndex: 2, min: 0, max: 100, interval: 20, position: "top", axisLine: line(), axisTick: ticks(), axisLabel: { show: false }, splitLine: { show: false } },
    { type: "value", gridIndex: 3, min: 0.18, max: 0.3, interval: 0.02, position: "bottom",
      axisLine: line(), axisTick: ticks(), splitLine: { show: false },
      axisLabel: { ...tickFont(40), margin: 12, formatter: vTick },
      name: subName("v", "in"), nameLocation: "middle", nameGap: 58, nameTextStyle: subRich },
  ],
  yAxis: [
    { type: "value", gridIndex: 0, min: 0, max: 100, interval: 20, position: "left", z: 5,
      axisLine: { show: false }, axisTick: { show: false }, splitLine: { show: false },
      axisLabel: { ...tickFont(45), margin: 9, padding: [5, 0, 0, 0] },
      name: "t", nameLocation: "middle", nameGap: 104, nameTextStyle: tickFont(46) },
    { type: "value", gridIndex: 1, min: 0, max: 0.25, interval: 0.05, position: "left",
      axisLine: line(), axisTick: ticks(), splitLine: { show: false },
      axisLabel: { ...tickFont(40), margin: 9, padding: [4, 0, 0, 0], formatter: vTick },
      name: subName("v", "out"), nameLocation: "middle", nameGap: 112, nameTextStyle: subRich },
    { type: "value", gridIndex: 2, min: -2, max: 12, interval: 2, position: "left",
      axisLine: line("#0000ff", 1.5), axisTick: ticks("#0000ff"), splitLine: { show: false },
      axisLabel: { ...tickFont(46, "#0000ff"), margin: 6, padding: [4, 0, 0, 0], formatter: (v: number) => (v < 0 ? `\u2212${-v}` : String(v)) },
      name: "X(t)", nameLocation: "middle", nameGap: 82, nameTextStyle: tickFont(50, "#0000ff") },
    { type: "value", gridIndex: 2, min: -0.4, max: 1, interval: 0.2, position: "right",
      axisLine: line("#007f00", 1.5), axisTick: ticks("#007f00"), splitLine: { show: false },
      axisLabel: { ...tickFont(46, "#007f00"), margin: 7, padding: [4, 0, 0, 0], formatter: (v: number) => (Math.abs(v) < 1e-6 ? "0" : v < 0 ? `\u2212${+(-v).toFixed(1)}` : String(+v.toFixed(1))) } },
    { type: "value", gridIndex: 3, min: 0, max: dYMax, position: "left",
      axisLine: line(), axisTick: { ...ticks(), customValues: dYTicks }, splitLine: { show: false },
      axisLabel: { ...tickFont(40), margin: 7, padding: [4, 0, 0, 0], customValues: dYTicks, formatter: vTick },
      name: subName("v", "out"), nameLocation: "middle", nameGap: 102, nameTextStyle: subRich },
    { type: "value", gridIndex: 3, min: 0, max: dYMax, position: "right", axisLine: line(), axisTick: { show: false }, axisLabel: { show: false }, splitLine: { show: false } },
  ],
  series: [
    {
      type: "custom", xAxisIndex: 0, yAxisIndex: 0, z: 1, clip: true,
      data: fieldRowList.map((r) => [-12, 12, r.t0, r.t1]), encode: { x: [0, 1], y: [2, 3] },
      renderItem: (params: any, api: any) => {
        const a = api.coord([api.value(0), api.value(3)]);
        const b = api.coord([api.value(1), api.value(2)]);
        return { type: "rect", shape: { x: a[0], y: a[1] - 0.4, width: b[0] - a[0], height: b[1] - a[1] + 0.8 }, style: { fill: fieldFills[params.dataIndex] } };
      },
    },
    {
      type: "custom", xAxisIndex: 0, yAxisIndex: 0, z: 1.5, clip: true, silent: true,
      data: meshLines, encode: { x: [0, 2], y: [1, 3] },
      renderItem: (_p: any, api: any) => {
        const a = api.coord([api.value(0), api.value(1)]);
        const b = api.coord([api.value(2), api.value(3)]);
        return { type: "line", shape: { x1: a[0], y1: a[1], x2: b[0], y2: b[1] }, style: { stroke: "rgba(255,255,255,0.1)", lineWidth: 1 } };
      },
    },
    // (b)
    lineSeries(2, 1, "#00ff00", sticks(bGreen), 3.6),
    lineSeries(2, 1, "#ff0000", sticks(bRed), 3.4),
    lineSeries(2, 1, "#0000e8", arcs(bBlueArcs), 2.6),
    lineSeries(2, 1, "#000000", bBlack, 2.4),
    dotSeries(2, 1, bDots),
    blockSeries(2, 1, 58),
    // (c)
    lineSeries(4, 3, "#007f00", cFieldTime.map((t, i) => [t, cFieldValue[i]]), 2.6, 2, { lineStyle: { type: [10, 7] } }),
    lineSeries(4, 2, "#0000ff", cTime.map((t, i) => [t, cPosition[i]]), 2.8, 3),
    // (d)
    lineSeries(6, 4, "#00ff00", sticks(dGreen), 3.6),
    lineSeries(6, 4, "#ff0000", sticks(dRed), 3.2),
    lineSeries(6, 4, "#0000e8", arcs(dBlueArcs), 2.6),
    lineSeries(6, 4, "#0000e8", sticks(dBlueSticks), 2.8),
    lineSeries(6, 4, "#00e000", sticks(dGreenOver), 3, 3),
    lineSeries(6, 4, "#000000", dBlack, 2.4),
    dotSeries(6, 4, dDots),
    blockSeries(6, 4, 52),
  ],
  graphic: [
    { type: "text", z: 20, style: { text: "(a)", x: 212, y: 83, fill: "#fff", fontFamily: SERIF, fontSize: 56, align: "center", verticalAlign: "middle" } },
    { type: "text", z: 20, style: { text: "(b)", x: 1348, y: 76, fill: "#000", fontFamily: SERIF, fontSize: 56, align: "center", verticalAlign: "middle" } },
    { type: "text", z: 20, style: { text: "(c)", x: 229, y: 930, fill: "#000", fontFamily: SERIF, fontSize: 56, align: "center", verticalAlign: "middle" } },
    { type: "text", z: 20, style: { text: "(d)", x: 1402, y: 930, fill: "#000", fontFamily: SERIF, fontSize: 56, align: "center", verticalAlign: "middle" } },
    { type: "text", z: 20, style: { text: "2nd bounce", x: 163, y: 327, fill: "#fff", fontFamily: SERIF, fontSize: 51, align: "left", verticalAlign: "middle" } },
    { type: "text", z: 20, style: { text: "1st bounce", x: 175, y: 525, fill: "#fff", fontFamily: SERIF, fontSize: 51, align: "left", verticalAlign: "middle" } },
    { type: "line", z: 20, shape: { x1: 423, y1: 342, x2: 490, y2: 355 }, style: { stroke: "#fff", lineWidth: 6 } },
    { type: "polygon", z: 20, shape: { points: [[507, 358], [470, 343], [478, 352], [468, 360]] }, style: { fill: "#fff" } },
    { type: "line", z: 20, shape: { x1: 423, y1: 522, x2: 490, y2: 503 }, style: { stroke: "#fff", lineWidth: 6 } },
    { type: "polygon", z: 20, shape: { points: [[507, 497], [470, 498], [478, 507], [473, 516]] }, style: { fill: "#fff" } },
    { type: "line", z: 20, shape: { x1: 1162, y1: 1200, x2: 1168, y2: 1195 }, style: { stroke: "#007f00", lineWidth: 2 } },
    { type: "circle", z: 20, shape: { cx: 1167, cy: 1211, r: 1.5 }, style: { fill: "#007f00" } },
    { type: "line", z: 20, shape: { x1: 1162, y1: 1222, x2: 1168, y2: 1225 }, style: { stroke: "#007f00", lineWidth: 2 } },
  ],
};

export default function App() {
  const ref = useRef<HTMLDivElement>(null);
  useEffect(() => {
    const chart = echarts.init(ref.current as HTMLDivElement, undefined, { renderer: "svg" });
    chart.setOption(option);
    return () => chart.dispose();
  }, []);
  return <div ref={ref} style={{ position: "absolute", left: 0, top: 0, width: 2260, height: 1674 }} />;
}
